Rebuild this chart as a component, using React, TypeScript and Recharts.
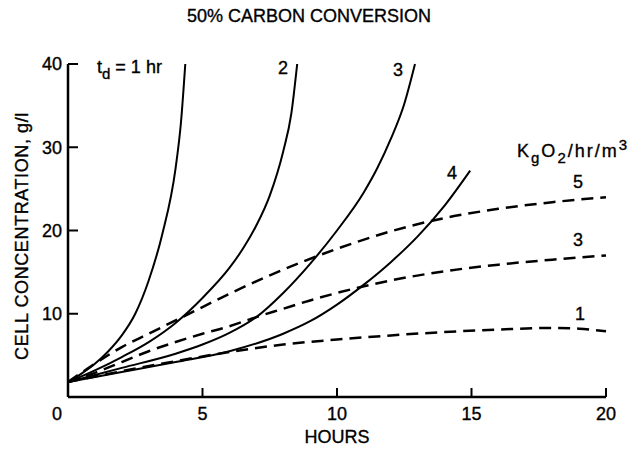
import { LineChart, Line, XAxis, YAxis } from 'recharts';

// hours on x, cell concentration (g/l) on y
const xTicks = [0, 5, 10, 15, 20];
const yTicks = [10, 20, 30, 40];

// solid curves, doubling time t_d = 1..4 hr
const td1 = [[0, 1.8], [0.5, 2.8], [1, 4.0], [1.5, 5.5], [2, 7.4], [2.5, 10.0], [3, 14.0], [3.5, 19.5], [4, 27.5], [4.2, 33], [4.36, 40]];
const td2 = [[0, 1.8], [1, 3.2], [2, 4.8], [3, 6.6], [4, 8.9], [5, 11.9], [6, 15.5], [6.5, 17.8], [7, 20.6], [7.5, 24.2], [8, 29.5], [8.3, 34], [8.52, 40]];
const td3 = [[0, 1.8], [2, 3.5], [4, 5.2], [5, 6.3], [6, 7.7], [7, 9.6], [8, 12.5], [9, 16.0], [10, 20.0], [11, 24.6], [11.5, 27.5], [12, 31], [12.5, 35.2], [12.9, 40]];
const td4 = [[0, 1.8], [2, 3.0], [4, 4.2], [6, 5.5], [8, 7.6], [9, 9.1], [10, 11.1], [11, 13.5], [12, 16.2], [13, 19.3], [14, 23], [14.95, 27.2]];

// dashed curves, oxygen transfer K = 5, 3, 1 kg O2/hr/m3
const k5 = [[0, 1.8], [1, 4.0], [2, 6.0], [3, 7.6], [4, 9.2], [5, 10.8], [6, 12.4], [8, 15.3], [10, 17.8], [12, 19.9], [14, 21.5], [16, 22.6], [18, 23.4], [20, 24]];
const k3 = [[0, 1.8], [1, 2.9], [2, 4.2], [3, 5.5], [4, 6.6], [5, 7.6], [6, 8.5], [7, 9.6], [8, 10.6], [9, 11.6], [10, 12.5], [11, 13.3], [12, 14], [14, 15.1], [16, 15.9], [18, 16.5], [20, 17]];
const k1 = [[0, 1.8], [2, 3.1], [4, 4.3], [6, 5.4], [8, 6.3], [10, 6.9], [12, 7.4], [14, 7.8], [16, 8.1], [18, 8.3], [19, 8.2], [20, 7.9]];

const toPts = (arr: number[][]) => arr.map(([x, y]) => ({ x, y }));
const solid = [td1, td2, td3, td4].map(toPts);
const dashed = [k5, k3, k1].map(toPts);

const font = '"Liberation Sans", Arial, Helvetica, sans-serif';
const fs = 18;
const ink = { fill: '#000', stroke: '#000', strokeWidth: 0.35 };

// ticks point inward, labels outside
function XTick({ x, y, payload }: any) {
  const v = payload.value;
  return (
    <g>
      {v !== 0 && <line x1={x} y1={y} x2={x} y2={y - 9} stroke="#000" strokeWidth={2} />}
      <text x={v === 0 ? x - 11 : x} y={y + 10} dy="0.71em" textAnchor="middle" fontSize={fs} fontFamily={font} {...ink}>
        {v}
      </text>
    </g>
  );
}

function YTick({ x, y, payload }: any) {
  return (
    <g>
      <line x1={x} y1={y} x2={x + 10} y2={y} stroke="#000" strokeWidth={2} />
      <text x={x - 6} y={y} dy="0.355em" textAnchor="end" fontSize={fs} fontFamily={font} {...ink}>
        {payload.value}
      </text>
    </g>
  );
}

export default function App() {
  return (
    <div style={{ position: 'absolute', left: 0, top: 0, width: 634, height: 455, background: '#fff' }}>
      <LineChart width={634} height={455} margin={{ top: 64, right: 28, bottom: 0, left: 0 }}>
        <XAxis
          type="number"
          dataKey="x"
          domain={[0, 20]}
          ticks={xTicks}
          height={58}
          tickSize={0}
          tickMargin={0}
          tickLine={false}
          tick={<XTick />}
          axisLine={{ stroke: '#000', strokeWidth: 2.5 }}
        />
        <YAxis
          type="number"
          dataKey="y"
          domain={[0, 40]}
          ticks={yTicks}
          width={68}
          tickSize={0}
          tickMargin={0}
          tickLine={false}
          tick={<YTick />}
          axisLine={{ stroke: '#000', strokeWidth: 2.5 }}
        />
        {solid.map((d, i) => (
          <Line key={'td' + i} data={d} dataKey="y" type="monotone" dot={false} stroke="#000" strokeWidth={2} isAnimationActive={false} />
        ))}
        {dashed.map((d, i) => (
          <Line key={'k' + i} data={d} dataKey="y" type="monotone" dot={false} stroke="#000" strokeWidth={2.5} strokeDasharray="12 7" isAnimationActive={false} />
        ))}
      </LineChart>
      <svg width={634} height={455} style={{ position: 'absolute', left: 0, top: 0, pointerEvents: 'none' }} fontFamily={font} fontSize={fs} {...ink}>
        <text x={309} y={22} textAnchor="middle">50% CARBON CONVERSION</text>
        <text x={337} y={443} textAnchor="middle">HOURS</text>
        <text transform="translate(28,236) rotate(-90)" textAnchor="middle" letterSpacing={0.6}>
          CELL CONCENTRATION, g/l
        </text>
        <text x={97} y={73}>
          t<tspan dy={6} fontSize={15}>d</tspan>
          <tspan dy={-6}> = 1 hr</tspan>
        </text>
        <text x={278} y={74}>2</text>
        <text x={393} y={76}>3</text>
        <text x={447} y={179}>4</text>
        <text x={517} y={157} letterSpacing={2}>
          K<tspan dy={6} fontSize={15}>g</tspan>
          <tspan dy={-6}>O</tspan>
          <tspan dy={6} fontSize={15}>2</tspan>
          <tspan dy={-6}>/hr/m</tspan>
          <tspan dy={-7} fontSize={15}>3</tspan>
        </text>
        <text x={573} y={188}>5</text>
        <text x={573} y={246}>3</text>
        <text x={575} y={320}>1</text>
      </svg>
    </div>
  );
}
